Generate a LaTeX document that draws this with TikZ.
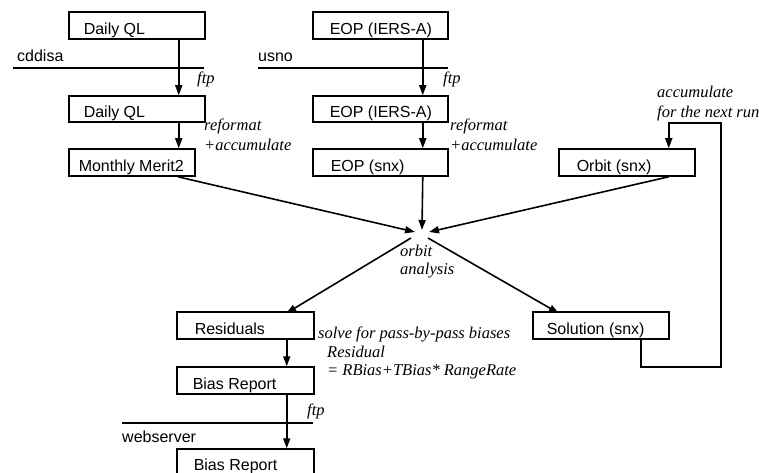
\documentclass[tikz,border=0pt]{standalone}
\usepackage{fontspec}
\setmainfont{Liberation Sans}
\newfontfamily\itfont{Liberation Serif}
\usetikzlibrary{arrows.meta}
\tikzset{
  boxst/.style={draw, line width=1.5pt, inner ysep=0pt, anchor=west,
    text depth=4.5pt, font=\fontsize{16}{19}\selectfont},
  lab/.style={inner sep=0pt, anchor=base west, font=\itfont\itshape\fontsize{16.5}{19}\selectfont},
  slab/.style={inner sep=0pt, anchor=base west, font=\fontsize{16}{19}\selectfont},
  flow/.style={line width=1.6pt, -{Triangle[length=10pt,width=7pt]}},
  plain/.style={line width=1.6pt},
}
% name, x0, y0, x1, y1, inset, text
\newcommand\mybox[7]{%
  \node[boxst, inner xsep=#6pt, text height=\dimexpr #5pt-#3pt-4.5pt\relax] (#1) at (#2,{(#3+#5)/2})
    {\makebox[\dimexpr #4pt-#2pt-#6pt-#6pt\relax][l]{#7}};}
\begin{document}
\begin{tikzpicture}[x=1pt,y=-1pt]
\useasboundingbox (0,0) rectangle (759,473);

% boxes
\mybox{dqa}{68}{12}{204}{39}{15}{Daily QL}
\mybox{dqb}{68}{96}{204}{122}{15}{Daily QL}
\mybox{mm}{68}{149}{194}{176}{10}{Monthly Merit2}
\mybox{eopa}{312}{12}{447}{39}{17}{EOP (IERS-A)}
\mybox{eopb}{312}{96}{447}{122}{17}{EOP (IERS-A)}
\mybox{eops}{312}{149}{447}{176}{18}{EOP (snx)}
\mybox{orb}{558}{149}{694}{176}{18}{Orbit (snx)}
\mybox{res}{176}{312}{313}{339}{18}{Residuals}
\mybox{bra}{176}{367}{313}{394}{16}{Bias Report}
\mybox{brb}{176}{449}{313}{475}{17}{Bias Report}
\mybox{sol}{532}{312}{668}{339}{14}{Solution (snx)}

% separator lines
\draw[plain] (13,68) -- (204,68);
\draw[plain] (258,68) -- (448,68);
\draw[plain] (122,423) -- (313,423);

% hub coordinates
\coordinate (inL) at (415,232);
\coordinate (inT) at (422,230);
\coordinate (inR) at (429,232);
\coordinate (outL) at (411,238);
\coordinate (outR) at (428,238);
\coordinate (loopc) at (721,367);
\coordinate (loopt) at (721,123);

% arrows
\draw[flow] ([xshift=42pt]dqa.south) -- ([xshift=42pt]dqa.south |- dqb.north);
\draw[flow] ([xshift=42pt]dqb.south) -- ([xshift=42pt]dqb.south |- mm.north);
\draw[flow] ([xshift=42.5pt]eopa.south) -- ([xshift=42.5pt]eopa.south |- eopb.north);
\draw[flow] ([xshift=42.5pt]eopb.south) -- ([xshift=42.5pt]eopb.south |- eops.north);
\draw[flow] ([xshift=46pt]mm.south) -- (inL);
\draw[flow] ([xshift=42.5pt]eops.south) -- (inT);
\draw[flow] ([xshift=42pt]orb.south) -- (inR);
\draw[flow] (outL) -- ([xshift=41pt,yshift=-2pt]res.north);
\draw[flow] (outR) -- ([xshift=-42pt,yshift=-2pt]sol.north);
\draw[flow] ([xshift=41.5pt]res.south) -- ([xshift=41.5pt]res.south |- bra.north);
\draw[flow] ([xshift=41.5pt]bra.south) -- ([xshift=41.5pt]bra.south |- brb.north);
\draw[flow] ([xshift=40pt]sol.south) |- (loopc) -- (loopt) -| ([xshift=42pt]orb.north);

% labels
\node[slab] (lcdd) at (17,62) {cddisa};
\node[slab] (lusno) at (258,62) {usno};
\node[slab] (lweb) at (122,442) {webserver};
\node[lab] (lftpa) at (197,84) {ftp};
\node[lab] (lftpb) at (443,84) {ftp};
\node[lab] (lftpc) at (307,415) {ftp};
\node[lab] (lrefa) at (204,131) {reformat};
\node[lab] (lacca) at (204,150) {+accumulate};
\node[lab] (lrefb) at (450,131) {reformat};
\node[lab] (laccb) at (450,150) {+accumulate};
\node[lab] (lacc) at (657,98) {accumulate};
\node[lab] (lnext) at (657,118) {for the next run};
\node[lab] (lorb) at (400,256) {orbit};
\node[lab] (lana) at (400,274) {analysis};
\node[lab] (lsolve) at (318,338) {solve for pass-by-pass biases};
\node[lab] (lres) at (327,357) {Residual};
\node[lab] (leq) at (327,375) {= RBias+TBias* RangeRate};
\end{tikzpicture}
\end{document}
